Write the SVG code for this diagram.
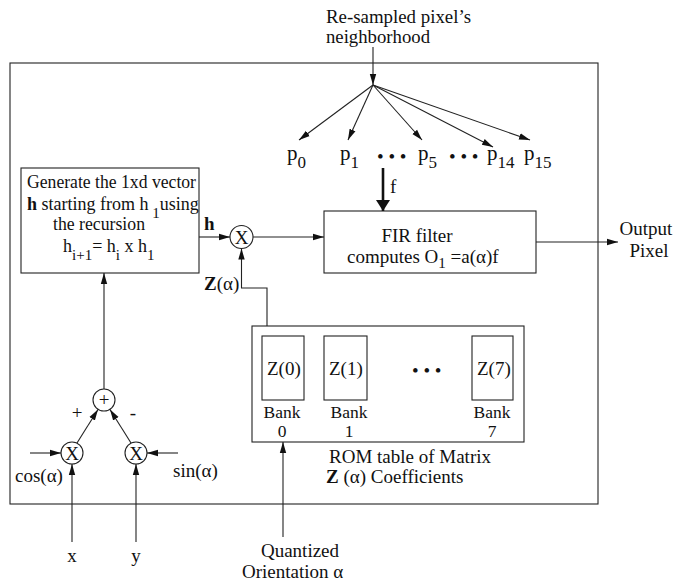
<svg xmlns="http://www.w3.org/2000/svg" width="673" height="585" viewBox="0 0 673 585">
<style>
text{font-family:"Liberation Serif","Times New Roman",serif;font-size:19px;fill:#111}
.b{font-weight:bold}
.sub{font-size:15px}
.p{font-size:21px}
.ps{font-size:17px}
.g{font-size:18px}
.bk{font-size:17.5px}
.box{fill:none;stroke:#222;stroke-width:1.1}
.ar{fill:none;stroke:#222;stroke-width:1.1;marker-end:url(#ah)}
.circ{fill:#fff;stroke:#222;stroke-width:1.1}
</style>
<defs>
<marker id="ah" markerUnits="userSpaceOnUse" markerWidth="12" markerHeight="8" refX="11" refY="4" orient="auto"><path d="M0,0.8 L11,4 L0,7.2 Z" fill="#111"/></marker>
<marker id="ahb" markerUnits="userSpaceOnUse" markerWidth="12" markerHeight="14" refX="11" refY="7" orient="auto"><path d="M0,0 L11,7 L0,14 Z" fill="#111"/></marker>
</defs>

<g id="outer-box"><rect class="box" x="10" y="63" width="588" height="441"/></g>

<g id="source">
<text x="326" y="23" textLength="145" lengthAdjust="spacingAndGlyphs">Re-sampled pixel’s</text>
<text x="326" y="43" textLength="104" lengthAdjust="spacingAndGlyphs">neighborhood</text>
</g>

<g id="pixels">
<text class="p" x="287" y="160">p<tspan class="ps" dy="8">0</tspan></text>
<text class="p" x="340" y="160">p<tspan class="ps" dy="8">1</tspan></text>
<text x="377" y="163">• • •</text>
<text class="p" x="418" y="160">p<tspan class="ps" dy="8">5</tspan></text>
<text x="449" y="163">• • •</text>
<text class="p" x="487" y="160">p<tspan class="ps" dy="8">14</tspan></text>
<text class="p" x="524" y="160">p<tspan class="ps" dy="8">15</tspan></text>
<text x="390" y="193">f</text>
</g>

<g id="generate-box">
<rect class="box" x="21" y="168" width="178" height="105"/>
<text class="g" x="27" y="188" textLength="169" lengthAdjust="spacingAndGlyphs">Generate the 1xd vector</text>
<text class="g" x="27" y="210"><tspan class="b">h</tspan>  starting from h<tspan class="sub" dy="8"> 1</tspan><tspan dy="-8">using</tspan></text>
<text class="g" x="53" y="230" textLength="92" lengthAdjust="spacingAndGlyphs">the recursion</text>
<text class="g" x="63" y="252">h<tspan class="sub" dy="8">i+1</tspan><tspan dy="-8">= h</tspan><tspan class="sub" dy="8">i</tspan><tspan dy="-8">  x h</tspan><tspan class="sub" dy="8">1</tspan></text>
</g>

<g id="mult-h">
<circle class="circ" cx="241.5" cy="237" r="11.5"/>
<text x="241.5" y="243.5" text-anchor="middle">X</text>
<text class="b" x="204" y="230">h</text>
<text x="204" y="290"><tspan class="b">Z</tspan>(α)</text>
</g>

<g id="fir-box">
<rect class="box" x="324" y="211" width="212" height="62"/>
<text x="417" y="242" text-anchor="middle">FIR filter</text>
<text x="347" y="263">computes O<tspan class="sub" dy="5">1</tspan><tspan dy="-5"> =a(α)f</tspan></text>
</g>

<g id="output">
<text x="646" y="235" text-anchor="middle">Output</text>
<text x="649" y="257" text-anchor="middle">Pixel</text>
</g>

<g id="rom-box">
<rect class="box" x="252" y="326" width="272" height="116"/>
<rect class="box" x="262" y="336" width="42" height="64"/>
<rect class="box" x="324" y="336" width="43" height="64"/>
<rect class="box" x="472" y="336" width="41" height="64"/>
<text x="267" y="375">Z(0)</text>
<text x="329" y="375">Z(1)</text>
<text x="412" y="377">• • •</text>
<text x="477" y="375">Z(7)</text>
<text class="bk" x="282" y="418" text-anchor="middle">Bank</text>
<text class="bk" x="282" y="437" text-anchor="middle">0</text>
<text class="bk" x="349" y="418" text-anchor="middle">Bank</text>
<text class="bk" x="349" y="437" text-anchor="middle">1</text>
<text class="bk" x="492" y="418" text-anchor="middle">Bank</text>
<text class="bk" x="492" y="437" text-anchor="middle">7</text>
<text x="410" y="463" text-anchor="middle">ROM table of Matrix</text>
<text x="326" y="483"><tspan class="b">Z</tspan> (α) Coefficients</text>
</g>

<g id="quantized">
<text x="300" y="557" text-anchor="middle">Quantized</text>
<text x="242" y="578">Orientation   α</text>
</g>

<g id="adder">
<circle class="circ" cx="104" cy="400" r="11"/>
<text x="104" y="406" text-anchor="middle">+</text>
<text x="77" y="419" text-anchor="middle">+</text>
<text x="133" y="419" text-anchor="middle">-</text>
</g>

<g id="mult-cos">
<circle class="circ" cx="72" cy="453" r="11"/>
<text x="72" y="459.5" text-anchor="middle">X</text>
<text x="15" y="482">cos(α)</text>
</g>

<g id="mult-sin">
<circle class="circ" cx="136" cy="453" r="11"/>
<text x="136" y="459.5" text-anchor="middle">X</text>
<text x="173" y="477">sin(α)</text>
</g>

<g id="inputs">
<text x="72" y="562" text-anchor="middle">x</text>
<text x="136" y="562" text-anchor="middle">y</text>
</g>

<g id="connectors">
<path class="ar" d="M373,47 L373,85"/>
<path class="ar" d="M373,85 L299,140"/>
<path class="ar" d="M373,85 L348,140"/>
<path class="ar" d="M373,85 L422,140"/>
<path class="ar" d="M373,85 L493,147"/>
<path class="ar" d="M373,85 L530,140"/>
<path d="M383,168 L383,211" fill="none" stroke="#111" stroke-width="2.6" marker-end="url(#ahb)"/>
<path class="ar" d="M199,237 L230,237"/>
<path class="ar" d="M253,237 L324,237"/>
<path class="ar" d="M536,242 L618,242"/>
<path class="ar" d="M267,326 L267,288 L241.5,288 L241.5,248.5"/>
<path class="ar" d="M104,389 L104,273"/>
<path class="ar" d="M77,443 L98,409.5"/>
<path class="ar" d="M131,443 L110,409.5"/>
<path class="ar" d="M30,453 L61,453"/>
<path class="ar" d="M178,453 L147,453"/>
<path class="ar" d="M72,542 L72,464"/>
<path class="ar" d="M136,542 L136,464"/>
<path class="ar" d="M283,537 L283,442"/>
</g>
</svg>
